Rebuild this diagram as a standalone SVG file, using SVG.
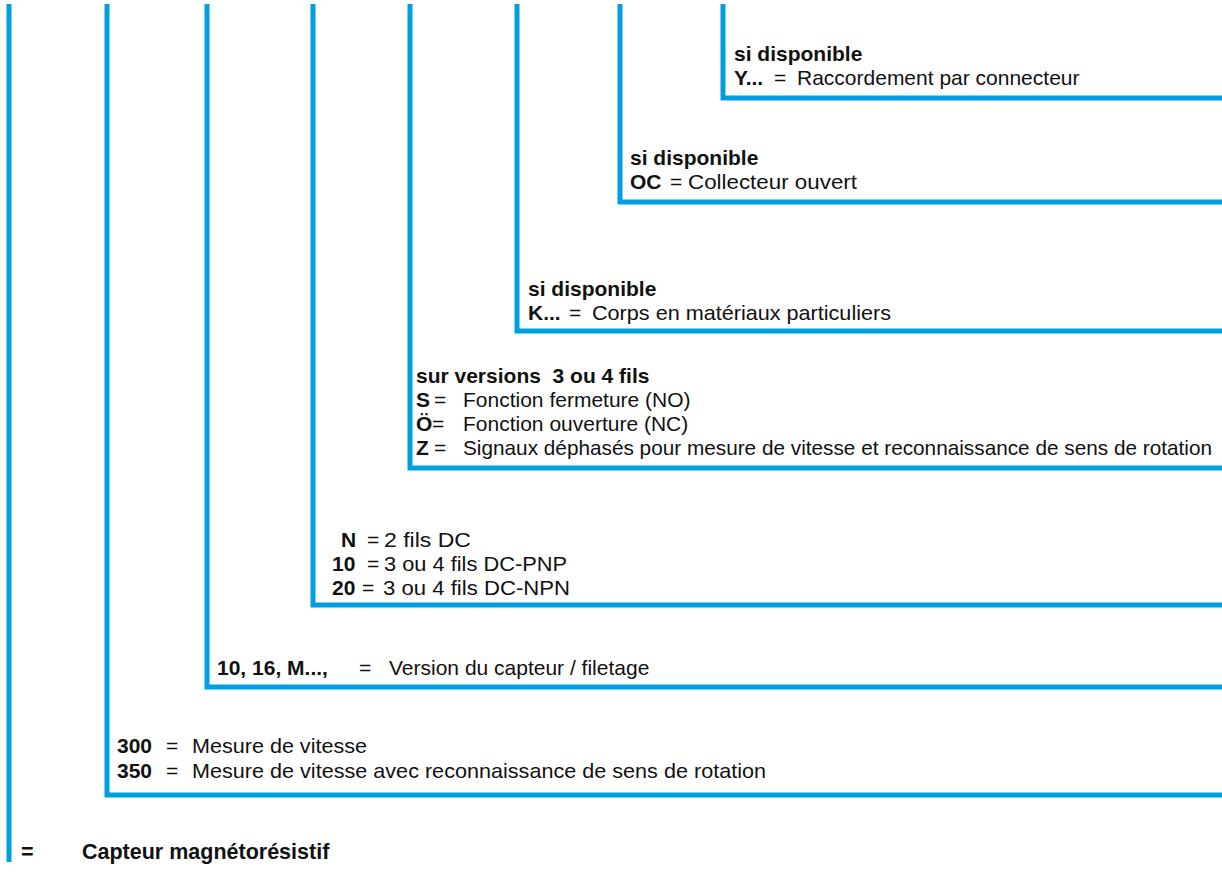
<svg xmlns="http://www.w3.org/2000/svg" width="1222" height="872" viewBox="0 0 1222 872">
<style>
.ln{fill:none;stroke:#009FE3;stroke-width:5;stroke-linejoin:miter;stroke-linecap:butt}
text{font-family:"Liberation Sans",Arial,sans-serif;font-size:21px;fill:#111}
.b{font-weight:bold}
.big{font-size:21.5px;font-weight:bold}
</style>
<rect width="1222" height="872" fill="#fff"/>
<g id="connectors">
<path class="ln" d="M9,4 V862"/>
<path class="ln" d="M107,4 V795 H1222"/>
<path class="ln" d="M207,4 V687 H1222"/>
<path class="ln" d="M313,4 V605 H1222"/>
<path class="ln" d="M410,4 V468 H1222"/>
<path class="ln" d="M517,4 V331 H1222"/>
<path class="ln" d="M620,4 V202 H1222"/>
<path class="ln" d="M723,4 V98 H1222"/>
</g>
<g id="node-connecteur">
<text class="b" x="734" y="61">si disponible</text>
<text y="85"><tspan class="b" x="734">Y...</tspan><tspan x="774">=</tspan><tspan x="797">Raccordement par connecteur</tspan></text>
</g>
<g id="node-collecteur">
<text class="b" x="630" y="165">si disponible</text>
<text y="189"><tspan class="b" x="630">OC</tspan><tspan x="670">=</tspan><tspan x="688" textLength="169" lengthAdjust="spacingAndGlyphs">Collecteur ouvert</tspan></text>
</g>
<g id="node-corps">
<text class="b" x="528" y="296">si disponible</text>
<text y="320"><tspan class="b" x="528">K...</tspan><tspan x="569">=</tspan><tspan x="592" textLength="299" lengthAdjust="spacingAndGlyphs">Corps en matériaux particuliers</tspan></text>
</g>
<g id="node-fonction">
<text class="b" x="416" y="383" xml:space="preserve">sur versions  3 ou 4 fils</text>
<text y="407"><tspan class="b" x="416">S</tspan><tspan x="434">=</tspan><tspan x="463">Fonction fermeture (NO)</tspan></text>
<text y="431"><tspan class="b" x="416">Ö</tspan><tspan x="432">=</tspan><tspan x="463">Fonction ouverture (NC)</tspan></text>
<text y="455"><tspan class="b" x="416">Z</tspan><tspan x="434">=</tspan><tspan x="463" textLength="749" lengthAdjust="spacingAndGlyphs">Signaux déphasés pour mesure de vitesse et reconnaissance de sens de rotation</tspan></text>
</g>
<g id="node-sortie">
<text y="547"><tspan class="b" x="341">N</tspan><tspan x="367">=</tspan><tspan x="384" textLength="87" lengthAdjust="spacingAndGlyphs">2 fils DC</tspan></text>
<text y="571"><tspan class="b" x="332">10</tspan><tspan x="367">=</tspan><tspan x="384" textLength="183" lengthAdjust="spacingAndGlyphs">3 ou 4 fils DC-PNP</tspan></text>
<text y="595"><tspan class="b" x="332">20</tspan><tspan x="362">=</tspan><tspan x="383" textLength="187" lengthAdjust="spacingAndGlyphs">3 ou 4 fils DC-NPN</tspan></text>
</g>
<g id="node-version">
<text y="675"><tspan class="b" x="217">10, 16, M...,</tspan><tspan x="359">=</tspan><tspan x="389">Version du capteur / filetage</tspan></text>
</g>
<g id="node-mesure">
<text y="753"><tspan class="b" x="117">300</tspan><tspan x="166">=</tspan><tspan x="192" textLength="175" lengthAdjust="spacingAndGlyphs">Mesure de vitesse</tspan></text>
<text y="778"><tspan class="b" x="117">350</tspan><tspan x="166">=</tspan><tspan x="192" textLength="574" lengthAdjust="spacingAndGlyphs">Mesure de vitesse avec reconnaissance de sens de rotation</tspan></text>
</g>
<g id="node-capteur">
<text class="big" x="21" y="859">=</text>
<text class="big" x="82" y="859">Capteur magnétorésistif</text>
</g>
</svg>
